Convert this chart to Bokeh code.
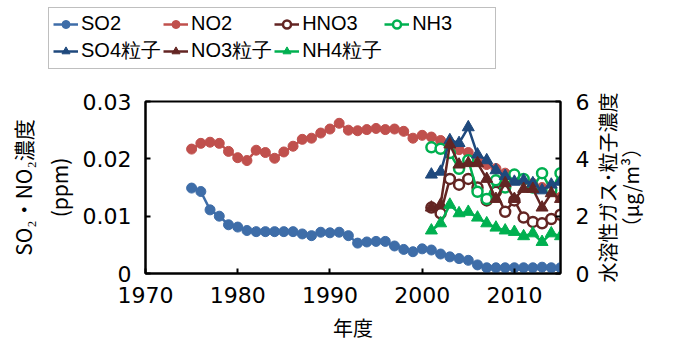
import math
from bokeh.plotting import figure
from bokeh.models import Range1d, LinearAxis, FixedTicker, Legend, LegendItem, Label
from bokeh.layouts import column, row
from bokeh.embed import file_html
from bokeh.resources import INLINE

years = list(range(1975, 2016))
so2 = [0.0149, 0.0143, 0.0111, 0.0100, 0.0085, 0.0081, 0.0075, 0.0073, 0.0073, 0.0073,
       0.0073, 0.0073, 0.0069, 0.0066, 0.0072, 0.0071, 0.0072, 0.0066, 0.0053, 0.0055,
       0.0056, 0.0056, 0.0048, 0.0042, 0.0038, 0.0043, 0.0041, 0.0034, 0.0029, 0.0026,
       0.0023, 0.0015, 0.0010, 0.0010, 0.0010, 0.0010, 0.0010, 0.0010, 0.0011, 0.0010,
       0.0010]
no2 = [0.0217, 0.0227, 0.0229, 0.0227, 0.0213, 0.0202, 0.0197, 0.0215, 0.0211, 0.0201,
       0.0212, 0.0222, 0.0234, 0.0236, 0.0245, 0.0252, 0.0262, 0.0250, 0.0249, 0.0251,
       0.0253, 0.0251, 0.0252, 0.0248, 0.0236, 0.0241, 0.0238, 0.0232, 0.0226, 0.0216,
       0.0211, 0.0200, 0.0190, 0.0183, 0.0175, 0.0168, 0.0162, 0.0157, 0.0150, 0.0145,
       0.0133]

pyears = list(range(2001, 2016))
hno3 = [2.3, 2.1, 3.3, 3.1, 3.3, 3.0, 2.55, 2.85, 2.15, 2.55, 1.95, 1.8, 1.75, 1.9, 2.05]
nh3 = [4.4, 4.35, 4.2, 3.65, 3.95, 2.85, 2.6, 3.25, 3.0, 3.45, 3.3, 3.0, 3.5, 2.9, 3.5]
so4 = [3.45, 3.55, 4.65, 4.55, 5.1, 4.15, 3.95, 3.6, 3.4, 3.2, 3.25, 3.15, 2.9, 3.1, 3.2]
no3 = [2.3, 2.4, 4.5, 3.8, 3.85, 3.85, 3.3, 2.6, 3.15, 2.6, 2.95, 2.95, 2.3, 2.8, 2.6]
nh4 = [1.5, 1.75, 2.4, 2.1, 2.15, 1.95, 1.75, 1.6, 1.5, 1.45, 1.3, 1.4, 1.1, 1.4, 1.3]

x_ticks = [1970, 1980, 1990, 2000, 2010]
left_ticks = [0, 0.01, 0.02, 0.03]
left_tick_labels = ["0", "0.01", "0.02", "0.03"]
right_ticks = [0, 2, 4, 6]
left_title = "SO₂・NO₂濃度\n(ppm)"
right_title_1 = "水溶性ガス･粒子濃度"
right_title_2 = "（μg/m³）"
x_title = "年度"

LEFT, FW, RIGHT = 145, 415, 32
TOP, FH, BOTTOM = 14, 172, 63
LG_H = 87
P_W = LEFT + FW + RIGHT
P_H = TOP + FH + BOTTOM

# ---- legend strip ----
lg = figure(frame_width=P_W, frame_height=LG_H, min_border=0,
            x_range=Range1d(0, 1), y_range=Range1d(0, 1),
            x_axis_location=None, y_axis_location=None,
            output_backend="svg", toolbar_location=None)
lg.xgrid.visible = False
lg.ygrid.visible = False
lg.outline_line_color = None

# ---- main chart ----
p = figure(frame_width=FW, frame_height=FH,
           min_border_left=LEFT, min_border_right=RIGHT,
           min_border_top=TOP, min_border_bottom=BOTTOM,
           x_range=Range1d(1970, 2015), y_range=Range1d(0, 0.03),
           output_backend="svg", toolbar_location=None)
p.extra_y_ranges = {"r": Range1d(0, 6)}
p.xgrid.visible = False
p.ygrid.visible = False
p.outline_line_color = "black"
p.outline_line_width = 2
p.background_fill_color = "white"

right = LinearAxis(y_range_name="r")
p.add_layout(right, "right")

for ax in [p.xaxis[0], p.yaxis[0], right]:
    ax.axis_line_color = "black"
    ax.axis_line_width = 2
    ax.major_tick_in = 5
    ax.major_tick_out = 0
    ax.major_tick_line_width = 2
    ax.major_tick_line_color = "black"
    ax.minor_tick_line_color = None
    ax.major_label_text_font = "DejaVu Sans"
    ax.major_label_text_font_size = "22px"
    ax.major_label_text_color = "black"
    ax.axis_label_text_font = "Noto Sans CJK JP"
    ax.axis_label_text_font_style = "normal"
    ax.axis_label_text_color = "black"

p.xaxis.ticker = FixedTicker(ticks=x_ticks)
p.xaxis.major_label_standoff = 13
p.xaxis.axis_label = x_title
p.xaxis.axis_label_text_font_size = "20px"
p.xaxis.axis_label_standoff = 7

p.yaxis[0].ticker = FixedTicker(ticks=left_ticks)
p.yaxis[0].major_label_overrides = dict(zip(left_ticks, left_tick_labels))
p.yaxis[0].major_label_standoff = 14
p.yaxis[0].axis_label = left_title
p.yaxis[0].axis_label_text_font_size = "21px"
p.yaxis[0].axis_label_standoff = 6

right.ticker = FixedTicker(ticks=right_ticks)
right.major_label_standoff = 15

# ---- right title strip ----
RT_H = LG_H + P_H
rt = figure(frame_width=80, frame_height=RT_H, min_border=0,
            x_range=Range1d(0, 80), y_range=Range1d(0, RT_H),
            x_axis_location=None, y_axis_location=None,
            output_backend="svg", toolbar_location=None)
rt.xgrid.visible = False
rt.ygrid.visible = False
rt.outline_line_color = None
ymid = RT_H - (LG_H + TOP + FH / 2)
for txt, xx in [(right_title_1, 15), (right_title_2, 38)]:
    rt.add_layout(Label(x=xx, y=ymid, text=txt, angle=math.pi / 2,
                        text_align="center", text_baseline="middle",
                        text_font="Noto Sans CJK JP", text_font_size="20px",
                        text_color="black"))

items = []

def add(xs, ys, color, marker, label, fill, size, rng="default"):
    kw = dict(y_range_name=rng) if rng != "default" else {}
    lw = 2.5 if fill == "white" else 1
    p.line(xs, ys, line_color=color, line_width=2.5, **kw)
    p.scatter(xs, ys, marker=marker, size=size, line_color=color, fill_color=fill,
              line_width=lw, **kw)
    # same series in the legend strip (out of its view) to provide legend glyphs
    l = lg.line(xs, ys, line_color=color, line_width=2.5)
    s = lg.scatter(xs, ys, marker=marker, size=size - 1, line_color=color, fill_color=fill,
                   line_width=lw)
    items.append(LegendItem(label=label, renderers=[l, s]))

add(years, so2, "#3E6DA8", "circle", "SO2", "#3E6DA8", 10)
add(years, no2, "#C0504D", "circle", "NO2", "#C0504D", 10)
add(pyears, hno3, "#632523", "circle", "HNO3", "white", 10, "r")
add(pyears, nh3, "#00B050", "circle", "NH3", "white", 10, "r")
add(pyears, so4, "#1F497D", "triangle", "SO4粒子", "#1F497D", 12, "r")
add(pyears, no3, "#632523", "triangle", "NO3粒子", "#632523", 12, "r")
add(pyears, nh4, "#00B050", "triangle", "NH4粒子", "#00B050", 12, "r")

legend = Legend(items=items, location=(48, LG_H - 69), orientation="horizontal", ncols=4,
                border_line_color="#808080", border_line_width=1,
                padding=4, spacing=2, margin=0,
                glyph_width=25, glyph_height=20, label_standoff=3,
                label_width=79, label_height=20,
                label_text_font="Liberation Sans", label_text_font_size="20px",
                label_text_color="black")
lg.add_layout(legend)

layout = row(column(lg, p, spacing=0), rt, spacing=0)
open("out.html", "w").write(file_html(layout, INLINE))
